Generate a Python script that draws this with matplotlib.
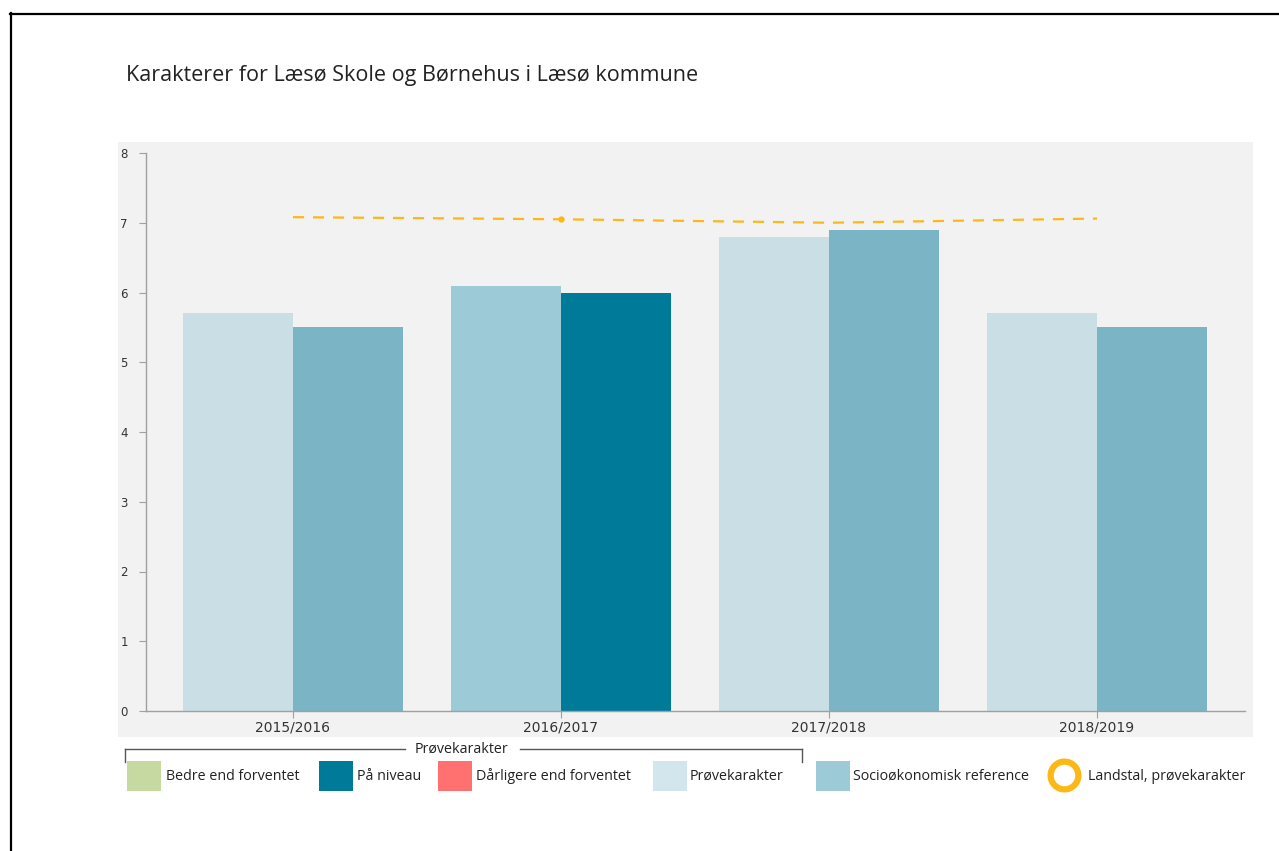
import matplotlib
matplotlib.use("Agg")
import matplotlib.pyplot as plt
from matplotlib.patches import Rectangle
from matplotlib.lines import Line2D
import numpy as np

# ---- data ----
years = ["2015/2016", "2016/2017", "2017/2018", "2018/2019"]
provekarakter = [5.7, 6.1, 6.8, 5.7]
socio_ref = [5.5, 6.0, 6.9, 5.5]
landstal = [7.08, 7.05, 7.0, 7.06]
prove_colors = ["#c9dfe5", "#9ccad6", "#c9dfe5", "#c9dfe5"]
socio_colors = ["#7bb5c5", "#007a99", "#7bb5c5", "#7bb5c5"]
y_ticks = [0, 1, 2, 3, 4, 5, 6, 7, 8]
title = "Karakterer for Læsø Skole og Børnehus i Læsø kommune"
legend_group = "Prøvekarakter"
legend_labels = ["Bedre end forventet", "På niveau", "Dårligere end forventet",
                 "Prøvekarakter", "Socioøkonomisk reference", "Landstal, prøvekarakter"]
legend_colors = ["#c5d9a0", "#007a99", "#ff7070", "#d3e6ed", "#9ccad6", "#fbb817"]

W, H = 1279, 851
fig = plt.figure(figsize=(W / 100, H / 100), dpi=100)
fig.patch.set_facecolor("white")

def fx(px):
    return px / W

def fy(py):
    return 1 - py / H

# outer black border (runs off right/bottom)
fig.add_artist(Line2D([fx(10.5), fx(10.5)], [fy(13), fy(860)], color="black", lw=1.6))
fig.add_artist(Line2D([fx(10), fx(1290)], [fy(13.5), fy(13.5)], color="black", lw=1.6))

# gray panel
fig.add_artist(Rectangle((fx(118), fy(737)), fx(1253) - fx(118), fy(142) - fy(737),
                         facecolor="#f2f2f2", edgecolor="none", zorder=0))

# title
fig.text(fx(126), fy(76), title, fontsize=15.5, family="Open Sans", color="#222222",
         va="center", ha="left")

# axes
ax = fig.add_axes([fx(146), fy(711), fx(1245) - fx(146), fy(153) - fy(711)])
ax.set_facecolor("none")
x = np.arange(len(years))
bw = 110 / 268
ax.bar(x - bw / 2, provekarakter, width=bw, color=prove_colors, zorder=2)
ax.bar(x + bw / 2, socio_ref, width=bw, color=socio_colors, zorder=2)
ax.plot(x, landstal, color="#fbb817", lw=1.6, dashes=(5, 4), zorder=3)
ax.plot(x[1:2], landstal[1:2], marker="o", ms=3.5, color="#fbb817", ls="none", zorder=3)

ax.set_xlim(-147 / 268, 952 / 268)
ax.set_ylim(0, 8)
ax.set_yticks(y_ticks)
ax.set_xticks(x)
ax.set_xticklabels(years)
for s in ["top", "right"]:
    ax.spines[s].set_visible(False)
for s in ["left", "bottom"]:
    ax.spines[s].set_color("#a0a0a0")
    ax.spines[s].set_linewidth(1)
ax.tick_params(axis="y", length=5, color="#a0a0a0", labelsize=8.5, labelcolor="#333333", pad=8)
ax.tick_params(axis="x", length=5, color="#a0a0a0", labelsize=10, labelcolor="#333333", pad=2)

# legend bracket
by = 749
fig.add_artist(Line2D([fx(125), fx(125)], [fy(by), fy(762)], color="#555555", lw=1))
fig.add_artist(Line2D([fx(802), fx(802)], [fy(by), fy(762)], color="#555555", lw=1))
fig.add_artist(Line2D([fx(125), fx(405)], [fy(by), fy(by)], color="#555555", lw=1))
fig.add_artist(Line2D([fx(520), fx(802)], [fy(by), fy(by)], color="#555555", lw=1))
fig.text(fx(461), fy(749), legend_group, fontsize=10.3, family="Open Sans", color="#222222",
         ha="center", va="center")

sq_x = [127, 319, 438, 653, 816]
txt_x = [166, 357, 476, 690, 853]
for i in range(5):
    fig.add_artist(Rectangle((fx(sq_x[i]), fy(791)), fx(34), 30 / H,
                             facecolor=legend_colors[i], edgecolor="none"))
    fig.text(fx(txt_x[i]), fy(776), legend_labels[i], fontsize=10.3, family="Open Sans",
             color="#222222", ha="left", va="center")

# ring
fig.add_artist(Line2D([fx(1064)], [fy(775)], marker="o", ms=20, mfc="none",
                      mec=legend_colors[5], mew=4.5))
fig.text(fx(1088), fy(776), legend_labels[5], fontsize=10.3, family="Open Sans",
         color="#222222", ha="left", va="center")

fig.savefig("out.png", dpi=100)
